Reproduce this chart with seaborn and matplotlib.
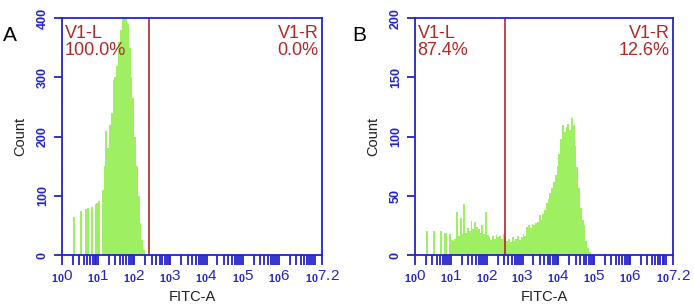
import matplotlib
matplotlib.use('Agg')
import matplotlib.pyplot as plt
import seaborn as sns
import numpy as np
import pandas as pd

# histogram bins in decades (log10 FITC-A), width 0.05
bin_width = 0.05

a_start = 0.30
a_counts = [65, 0, 0, 0, 74, 0, 0, 78, 80, 0, 82, 0, 86, 88, 92, 0,
            110, 150, 210, 180, 220, 240, 295, 300, 320, 360, 380, 410,
            420, 410, 390, 350, 300, 265, 200, 150, 100, 55, 25, 8]

b_start = 0.30
b_counts = [20, 0, 0, 0, 20, 0, 0, 0, 20, 0, 19, 19, 0, 18, 13, 12,
            14, 36, 16, 31, 18, 43, 19, 23, 20, 29, 22, 28, 24, 22, 19, 25,
            18, 36, 17, 15, 13, 16, 14, 17, 15, 16, 14, 18, 15, 12, 14, 11,
            15, 12, 14, 16, 13, 15, 18, 16, 24, 25, 23, 26, 25, 27, 28, 34,
            30, 35, 38, 44, 47, 52, 57, 62, 68, 75, 85, 98, 110, 104, 108, 111,
            106, 116, 110, 92, 74, 57, 40, 30, 25, 12, 6, 3, 1]

ymax = [400, 200]
yticks = [[0, 100, 200, 300, 400], [0, 50, 100, 150, 200]]
gates = [2.41, 2.52]
left_pct = ['100.0%', '87.4%']
right_pct = ['0.0%', '12.6%']

major = [0, 1, 2, 3, 4, 5, 6, 7.2]
major_labels = ['0', '1', '2', '3', '4', '5', '6', '7.2']

blue = '#2323c8'
red = '#b02828'
green = '#9fef62'

sns.set_style('ticks')
plt.rcParams['font.family'] = ['Liberation Sans', 'DejaVu Sans']
plt.rcParams['mathtext.fontset'] = 'custom'
plt.rcParams['mathtext.rm'] = 'Liberation Sans:bold'
plt.rcParams['mathtext.it'] = 'Liberation Sans:bold'

fig = plt.figure(figsize=(6.94, 3.07), dpi=100)
boxes = [[0.0893, 0.169, 0.375, 0.772], [0.598, 0.169, 0.372, 0.772]]

for i, (start, counts) in enumerate([(a_start, a_counts), (b_start, b_counts)]):
    ax = fig.add_axes(boxes[i])
    edges = start + bin_width * np.arange(len(counts) + 1)
    df = pd.DataFrame({'x': (edges[:-1] + edges[1:]) / 2, 'n': counts})
    sns.histplot(data=df, x='x', weights='n', bins=list(edges), ax=ax,
                 color=green, alpha=1, linewidth=0)
    ax.axvline(gates[i], color=red, lw=1.2)
    ax.set_xlim(0, 7.2)
    ax.set_ylim(0, ymax[i])

    ax.set_xticks(major)
    ax.set_xticklabels([r'$_{10}\mathregular{%s}$' % m for m in major_labels],
                       color=blue, fontsize=11)
    minor = [n + np.log10(k) for n in range(8) for k in range(2, 10)
             if n + np.log10(k) <= 7.2] + [7]
    ax.set_xticks(minor, minor=True)
    ax.tick_params(axis='x', which='both', direction='out', length=7,
                   width=1.3, color=blue, pad=3)

    ax.set_yticks(yticks[i])
    ax.set_yticklabels([str(t) for t in yticks[i]], rotation=90, va='center',
                       color=blue, fontsize=9, fontweight='bold')
    ax.tick_params(axis='y', direction='out', length=6, width=1.3, color=blue)

    for s in ax.spines.values():
        s.set_color(blue)
        s.set_linewidth(1.3)
        s.set_visible(True)

    ax.set_xlabel('FITC-A', fontsize=10.5, color='#202020', labelpad=3)
    ax.set_ylabel('Count', fontsize=10.5, color='#202020', labelpad=7)

    ax.text(0.01, 0.97, 'V1-L\n' + left_pct[i], transform=ax.transAxes,
            ha='left', va='top', color=red, fontsize=13, linespacing=0.95)
    ax.text(0.985, 0.97, 'V1-R\n' + right_pct[i], transform=ax.transAxes,
            ha='right', va='top', color=red, fontsize=13, linespacing=0.95,
            multialignment='right')

fig.text(0.004, 0.885, 'A', fontsize=15, color='black', ha='left', va='center')
fig.text(0.508, 0.885, 'B', fontsize=15, color='black', ha='left', va='center')

fig.savefig('out.png', dpi=100)
